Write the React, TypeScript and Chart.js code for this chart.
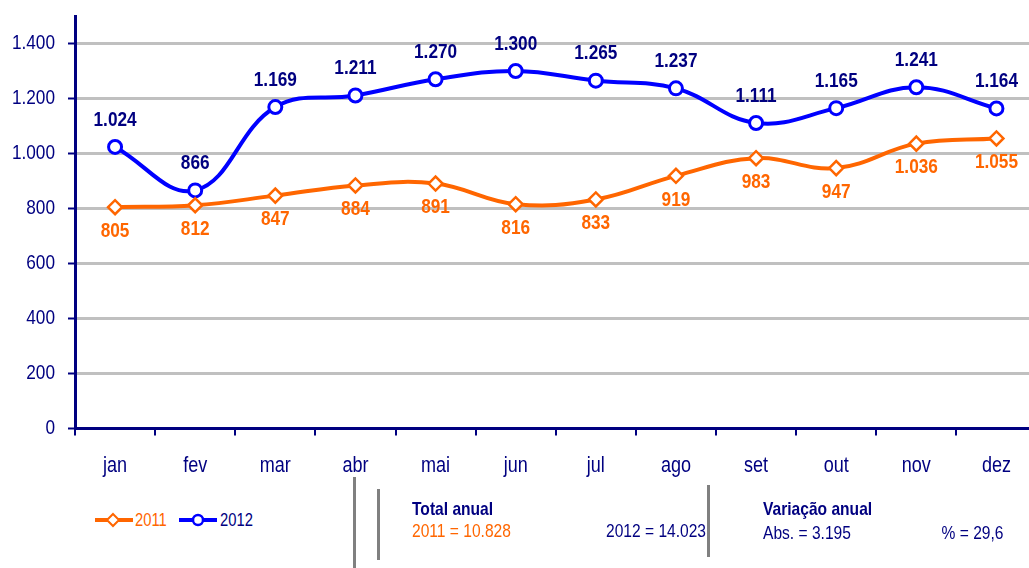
import React, { useEffect, useRef } from "react";
import { Chart, registerables } from "chart.js";

Chart.register(...registerables);

const months = ["jan", "fev", "mar", "abr", "mai", "jun", "jul", "ago", "set", "out", "nov", "dez"];
const values2011 = [805, 812, 847, 884, 891, 816, 833, 919, 983, 947, 1036, 1055];
const values2012 = [1024, 866, 1169, 1211, 1270, 1300, 1265, 1237, 1111, 1165, 1241, 1164];
const yTickValues = [0, 200, 400, 600, 800, 1000, 1200, 1400];
const seriesNames = ["2011", "2012"];
const totalsText = ["2011 = 10.828", "2012 = 14.023"];
const variationText = ["Abs. = 3.195", "% = 29,6"];

const NAVY = "#000080";
const ORANGE = "#FF6600";
const BLUE = "#0000FF";
const FONT = "'Liberation Sans', Arial, sans-serif";
const SX = 0.82; // horizontal squeeze to mimic a narrow face

const fmt = (v: number) => String(Math.round(v)).replace(/\B(?=(\d{3})+(?!\d))/g, ".");

function narrowText(ctx: CanvasRenderingContext2D, text: string, x: number, y: number) {
  ctx.save();
  ctx.translate(x, y);
  ctx.scale(SX, 1);
  ctx.fillText(text, 0, 0);
  ctx.restore();
}

const labelPlugin = {
  id: "narrowLabels",
  afterDraw(chart: any) {
    const ctx = chart.ctx as CanvasRenderingContext2D;
    ctx.save();
    ctx.textBaseline = "middle";
    // y tick labels
    const ys = chart.scales.y;
    ctx.font = `21px ${FONT}`;
    ctx.fillStyle = NAVY;
    ctx.textAlign = "right";
    ys.ticks.forEach((t: any) => {
      narrowText(ctx, fmt(t.value), ys.right - 20, ys.getPixelForValue(t.value));
    });
    // x tick labels
    const xs = chart.scales.x;
    ctx.font = `22px ${FONT}`;
    ctx.textAlign = "center";
    months.forEach((m, i) => {
      narrowText(ctx, m, xs.getPixelForValue(i), xs.top + 37);
    });
    // value labels
    ctx.font = `bold 21px ${FONT}`;
    chart.data.datasets.forEach((ds: any, i: number) => {
      const meta = chart.getDatasetMeta(i);
      meta.data.forEach((pt: any, j: number) => {
        const v = ds.data[j];
        if (i === 0) {
          ctx.fillStyle = ORANGE;
          narrowText(ctx, fmt(v), pt.x, pt.y + 24);
        } else {
          ctx.fillStyle = NAVY;
          narrowText(ctx, fmt(v), pt.x, pt.y - 27);
        }
      });
    });
    ctx.restore();
  },
};

export default function App() {
  const ref = useRef<HTMLCanvasElement>(null);
  useEffect(() => {
    if (!ref.current) return;
    const chart = new Chart(ref.current, {
      type: "line",
      data: {
        labels: months,
        datasets: [
          {
            label: seriesNames[0],
            data: values2011,
            borderColor: ORANGE,
            backgroundColor: "#ffffff",
            borderWidth: 4,
            tension: 0.4,
            pointStyle: "rectRot",
            pointRadius: 7,
            pointBorderWidth: 2.5,
            pointBorderColor: ORANGE,
            pointBackgroundColor: "#ffffff",
          },
          {
            label: seriesNames[1],
            data: values2012,
            borderColor: BLUE,
            backgroundColor: "#ffffff",
            borderWidth: 4,
            tension: 0.4,
            pointStyle: "circle",
            pointRadius: 6.5,
            pointBorderWidth: 3,
            pointBorderColor: BLUE,
            pointBackgroundColor: "#ffffff",
          },
        ],
      },
      options: {
        responsive: false,
        animation: false,
        devicePixelRatio: 1,
        layout: { padding: { top: 16, right: 4, left: 0, bottom: 6 } },
        plugins: { legend: { display: false }, tooltip: { enabled: false } },
        scales: {
          x: {
            offset: true,
            grid: {
              offset: true,
              drawOnChartArea: false,
              tickLength: 7,
              color: NAVY,
              lineWidth: 2,
            },
            border: { display: true, color: NAVY, width: 3 },
            ticks: { color: "rgba(0,0,0,0)", font: { family: FONT, size: 22 }, padding: 18 },
          },
          y: {
            min: 0,
            max: 1500,
            afterBuildTicks: (scale: any) => {
              scale.ticks = yTickValues.map((v) => ({ value: v }));
            },
            afterFit: (scale: any) => {
              scale.width = 75;
            },
            grid: {
              color: (c: any) => (c.tick && c.tick.value === 0 ? "rgba(0,0,0,0)" : "#C0C0C0"),
              lineWidth: 3,
              tickLength: 7,
              tickColor: NAVY,
              tickWidth: 2,
            },
            border: { display: true, color: NAVY, width: 3 },
            ticks: {
              color: "rgba(0,0,0,0)",
              font: { family: FONT, size: 1 },
              padding: 12,
              callback: (v: any) => fmt(Number(v)),
            },
          },
        },
      },
      plugins: [labelPlugin],
    } as any);
    return () => chart.destroy();
  }, []);

  const txt: React.CSSProperties = {
    position: "absolute",
    fontFamily: FONT,
    fontSize: 18,
    lineHeight: "20px",
    whiteSpace: "nowrap",
    transform: `scaleX(${SX})`,
    transformOrigin: "left center",
  };
  const txt19: React.CSSProperties = { ...txt, fontSize: 19 };
  const txt19R: React.CSSProperties = { ...txt19, transformOrigin: "right center" };
  const vline = (left: number, top: number, height: number): React.CSSProperties => ({
    position: "absolute",
    left,
    top,
    width: 3,
    height,
    background: "#808080",
  });

  return (
    <div
      style={{
        position: "fixed",
        left: 0,
        top: 0,
        width: 1029,
        height: 568,
        overflow: "hidden",
        background: "#ffffff",
      }}
    >
      <canvas ref={ref} width={1046} height={504} style={{ position: "absolute", left: 0, top: 0 }} />
      {/* legend */}
      <div style={{ position: "absolute", left: 94, top: 510, width: 40, height: 20 }}>
        <svg width="40" height="20">
          <line x1="1" y1="10" x2="39" y2="10" stroke={ORANGE} strokeWidth="4" />
          <polygon points="19,4 25,10 19,16 13,10" fill="#fff" stroke={ORANGE} strokeWidth="2" />
        </svg>
      </div>
      <div style={{ ...txt, left: 135, top: 510, color: ORANGE }}>{seriesNames[0]}</div>
      <div style={{ position: "absolute", left: 178, top: 510, width: 40, height: 20 }}>
        <svg width="40" height="20">
          <line x1="1" y1="10" x2="39" y2="10" stroke={BLUE} strokeWidth="4" />
          <circle cx="20" cy="10" r="5" fill="#fff" stroke={BLUE} strokeWidth="2.5" />
        </svg>
      </div>
      <div style={{ ...txt, left: 220, top: 510, color: NAVY }}>{seriesNames[1]}</div>

      <div style={vline(353, 477, 91)} />
      <div style={vline(377, 489, 71)} />
      <div style={vline(707, 485, 72)} />

      <div style={{ ...txt19, left: 412, top: 499, color: NAVY, fontWeight: "bold" }}>Total anual</div>
      <div style={{ ...txt19, left: 412, top: 521, color: ORANGE }}>{totalsText[0]}</div>
      <div style={{ ...txt19R, right: 1029 - 706, top: 521, color: NAVY }}>{totalsText[1]}</div>

      <div style={{ ...txt19, left: 763, top: 499, color: NAVY, fontWeight: "bold" }}>Variação anual</div>
      <div style={{ ...txt19, left: 763, top: 523, color: NAVY }}>{variationText[0]}</div>
      <div style={{ ...txt19R, right: 1029 - 1004, top: 523, color: NAVY }}>{variationText[1]}</div>
    </div>
  );
}
